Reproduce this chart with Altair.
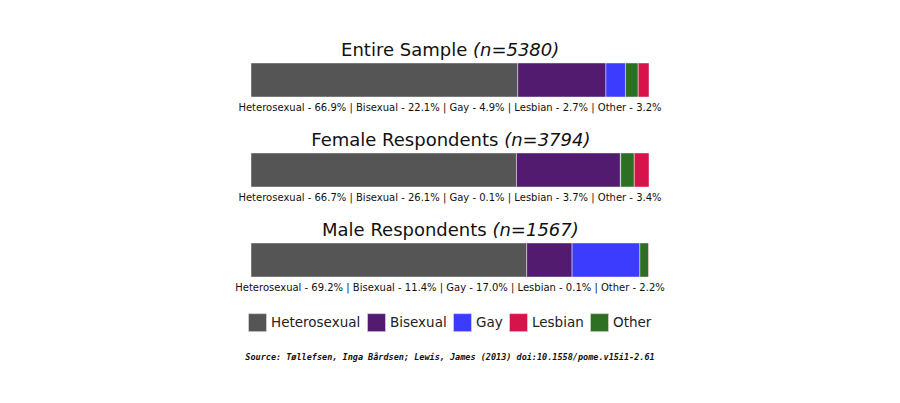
import altair as alt
import pandas as pd

# ---------------- data ----------------
groups = ["Entire Sample", "Female Respondents", "Male Respondents"]
sample_sizes = [5380, 3794, 1567]
categories = ["Heterosexual", "Bisexual", "Gay", "Lesbian", "Other"]
stack_order = ["Heterosexual", "Bisexual", "Gay", "Other", "Lesbian"]
pct_entire = [66.9, 22.1, 4.9, 2.7, 3.2]
pct_female = [66.7, 26.1, 0.1, 3.7, 3.4]
pct_male = [69.2, 11.4, 17.0, 0.1, 2.2]
source_note = "Source: Tøllefsen, Inga Bårdsen; Lewis, James (2013) doi:10.1558/pome.v15i1-2.61"

# ---------------- styles / layout ----------------
colors = ["#555555", "#521b6f", "#3c3cff", "#d6134a", "#2d7023"]
W, H = 900, 403
BAR_LEFT, BAR_PX = 251, 398
ROW0, ROW_GAP = 80, 90
TITLE_SIZE = 18

# DejaVu Sans advance widths (units of 1/2048 em) for title text width estimation
ADV = {" ": 651, "E": 1294, "n": 1298, "t": 803, "i": 569, "r": 842, "e": 1260,
       "S": 1300, "a": 1255, "m": 1995, "p": 1300, "l": 569, "F": 1178, "R": 1423,
       "s": 1067, "o": 1253, "d": 1300, "M": 1767, "(": 799, ")": 799, "=": 1716}


def text_px(s, size):
    return sum(ADV.get(c, 1303) for c in s) / 2048 * size


all_pcts = [pct_entire, pct_female, pct_male]

bar_rows, label_rows, title_rows = [], [], []
for r, (g, n, pcts) in enumerate(zip(groups, sample_sizes, all_pcts)):
    lookup = dict(zip(categories, pcts))
    total = sum(pcts)
    cum = 0.0
    for c in stack_order:
        v = lookup[c]
        bar_rows.append({"row": r, "category": c, "start": cum / total,
                         "end": (cum + v) / total})
        cum += v
    label_rows.append({"row": r, "center": 0.5,
                       "text": " | ".join(f"{c} - {p:.1f}%" for c, p in zip(categories, pcts))})
    normal = g
    italic = f"(n={n})"
    nw = text_px(normal + " ", TITLE_SIZE)
    iw = text_px(italic, TITLE_SIZE)
    split_px = (nw - iw) / 2
    sp = text_px(" ", TITLE_SIZE)
    title_rows.append({"row": r, "normal": normal, "italic": italic,
                       "ix": 0.5 + split_px / BAR_PX,
                       "nx": 0.5 + (split_px - sp) / BAR_PX})

bars_df = pd.DataFrame(bar_rows)
labels_df = pd.DataFrame(label_rows)
titles_df = pd.DataFrame(title_rows)

xscale = alt.Scale(domain=[-BAR_LEFT / BAR_PX, (W - BAR_LEFT) / BAR_PX],
                   nice=False, zero=False, padding=0)
yscale = alt.Scale(domain=[-ROW0 / ROW_GAP, (H - ROW0) / ROW_GAP], range=[0, H],
                   nice=False, zero=False, padding=0)

bars = alt.Chart(bars_df).mark_bar(
    size=34, orient="horizontal", stroke="white", strokeWidth=0.8, strokeOpacity=0.55
).encode(
    x=alt.X("start:Q", scale=xscale, axis=None),
    x2="end:Q",
    y=alt.Y("row:Q", scale=yscale, axis=None),
    color=alt.Color(
        "category:N",
        scale=alt.Scale(domain=categories, range=colors),
        legend=alt.Legend(
            title=None, orient="none", legendX=248, legendY=313,
            direction="horizontal", symbolType="square", symbolSize=324,
            symbolStrokeColor="#dddddd", symbolStrokeWidth=0.6,
            labelFontSize=13.5, labelFont="DejaVu Sans", labelColor="#222222",
            labelOffset=4, columnPadding=5, padding=0, symbolOpacity=1,
        ),
    ),
)

title_normal = alt.Chart(titles_df).mark_text(
    align="right", baseline="alphabetic", dy=-24, fontSize=TITLE_SIZE,
    font="DejaVu Sans", color="#111111"
).encode(
    x=alt.X("nx:Q", scale=xscale),
    y=alt.Y("row:Q", scale=yscale),
    text="normal:N",
)

title_italic = alt.Chart(titles_df).mark_text(
    align="left", baseline="alphabetic", dy=-24, fontSize=TITLE_SIZE,
    font="DejaVu Sans", fontStyle="italic", color="#111111"
).encode(
    x=alt.X("ix:Q", scale=xscale),
    y=alt.Y("row:Q", scale=yscale),
    text="italic:N",
)

labels = alt.Chart(labels_df).mark_text(
    align="center", baseline="alphabetic", dy=31, fontSize=10,
    font="DejaVu Sans", color="#111111"
).encode(
    x=alt.X("center:Q", scale=xscale),
    y=alt.Y("row:Q", scale=yscale),
    text="text:N",
)

source = alt.Chart(pd.DataFrame({"text": [source_note]})).mark_text(
    align="center", baseline="middle", fontSize=8.5, font="DejaVu Sans Mono",
    fontStyle="italic", fontWeight="bold", color="#111111"
).encode(
    x=alt.value(W / 2),
    y=alt.value(357),
    text="text:N",
)

chart = alt.layer(bars, title_normal, title_italic, labels, source).properties(
    width=W, height=H, padding=0, autosize="none", background="white"
).configure_view(stroke=None)

chart.save("out.html", embed_options={"renderer": "svg", "actions": False})
